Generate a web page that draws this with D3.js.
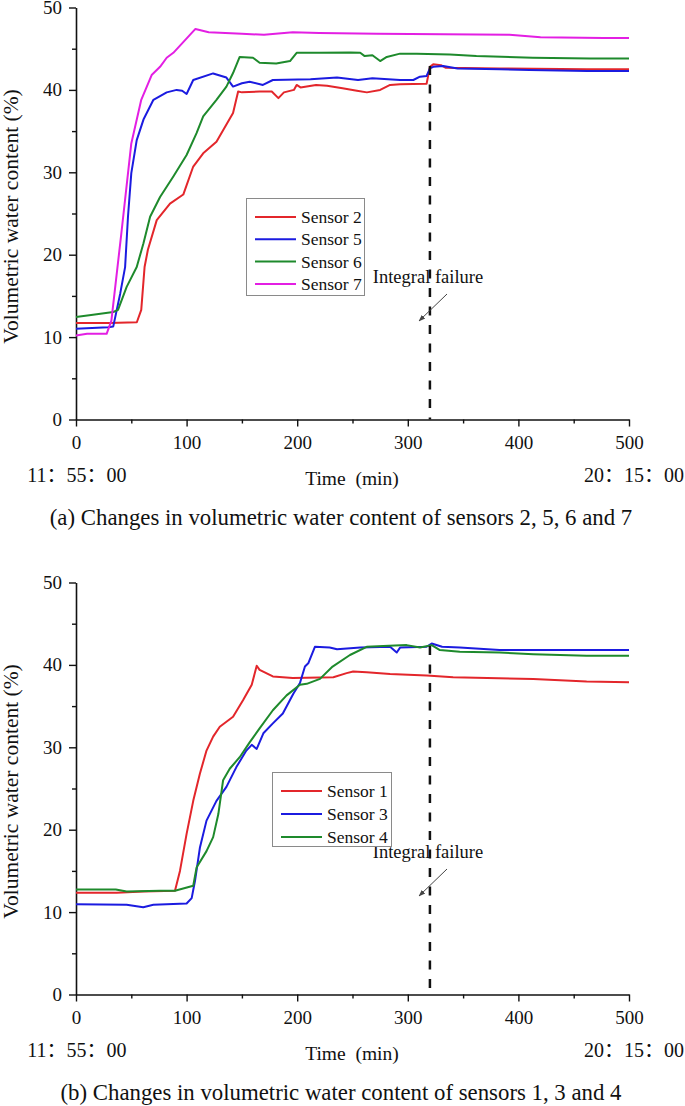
<!DOCTYPE html>
<html>
<head>
<meta charset="utf-8">
<script src="https://cdn.jsdelivr.net/npm/d3@7"></script>
<style>
  body { margin: 0; background: #fff; }
</style>
</head>
<body>
<div id="graph"></div>
<script>
// ---- data: [time (min), water content (%)] ----
const sensor2 = [[0,11.7],[30,11.7],[55,11.8],[59,13.3],[62,18.5],[65,20.6],[73,24.2],[85,26.2],[97,27.3],[106,30.7],[115,32.3],[127,33.7],[136,35.8],[142,37.2],[146.6,39.8],[150,39.7],[166,39.8],[177,39.8],[183,39.0],[188,39.7],[197,40.0],[199.5,40.6],[203,40.3],[217,40.6],[227,40.5],[241,40.2],[254,39.9],[263,39.7],[275,40.0],[284,40.6],[293,40.7],[317,40.75],[320,42.8],[323,43.1],[330,43.0],[334,42.7],[383,42.6],[462,42.5],[500,42.5]];
const sensor5 = [[0,11.0],[29,11.2],[33.7,11.3],[40,15.3],[44.4,18.5],[47,24.6],[50,29.9],[54.9,33.9],[61,36.4],[70,38.8],[82,39.7],[91,40.0],[96,39.9],[100,39.5],[106,41.2],[124,42.0],[136,41.5],[142,40.4],[150,40.8],[157,41.0],[169,40.6],[178,41.2],[212,41.3],[236,41.5],[255,41.2],[268,41.4],[293,41.2],[305,41.2],[311,41.6],[317,41.7],[320,42.6],[323,42.8],[332,42.9],[345,42.6],[383,42.5],[410,42.4],[462,42.3],[500,42.3]];
const sensor6 = [[0,12.45],[15.4,12.7],[33.7,13.05],[38,13.3],[45.8,16.1],[54.9,18.5],[61,21.4],[67,24.6],[76,27.0],[88,29.5],[100,32.1],[109,34.75],[115,36.8],[127,38.8],[136,40.4],[142,42.05],[148,44.0],[160,43.9],[166,43.3],[181,43.2],[193.5,43.5],[199.5,44.5],[220,44.5],[248,44.55],[257,44.5],[261,44.1],[268,44.2],[275,43.5],[281,44.0],[293,44.4],[308,44.4],[338,44.3],[362,44.1],[413,43.9],[465,43.8],[500,43.8]];
const sensor7 = [[0,10.2],[10,10.4],[27.7,10.4],[32,12.0],[41,22.6],[50,33.5],[59,38.8],[68.4,41.8],[76,42.8],[82,43.9],[88,44.5],[108,47.4],[120,47.0],[150,46.8],[170,46.7],[196,47.0],[220,46.9],[272,46.8],[392,46.7],[420,46.4],[477,46.3],[500,46.3]];

const sensor1 = [[0,12.35],[36.8,12.35],[61,12.5],[89.5,12.6],[94,15.0],[100,19.5],[106,23.5],[112,26.8],[118,29.6],[124,31.3],[130,32.5],[142,33.7],[151,35.7],[158.9,37.6],[163.4,39.9],[166,39.4],[178,38.6],[196,38.4],[232.7,38.5],[244.7,39.0],[250.6,39.2],[262.8,39.1],[284,38.9],[317,38.7],[341,38.5],[413.5,38.3],[461.7,38.0],[500,37.9]];
const sensor3 = [[0,10.95],[45.8,10.9],[60.8,10.6],[69.9,10.9],[100,11.05],[104.6,11.7],[107.6,13.8],[112,17.8],[118,21.1],[127,23.5],[136,25.2],[145,27.6],[154,29.6],[158.9,30.3],[163.4,29.8],[169.4,31.7],[178,32.9],[187,34.1],[196.5,36.5],[202.5,37.8],[207,39.8],[210,40.2],[216,42.2],[229.4,42.1],[236,41.9],[257,42.1],[284,42.2],[290,41.5],[293,42.1],[317,42.2],[321.6,42.6],[331,42.2],[347,42.1],[383,41.8],[500,41.8]];
const sensor4 = [[0,12.75],[36,12.75],[45.8,12.5],[76,12.6],[89.5,12.6],[106,13.2],[109,15.4],[118,17.4],[124,19.1],[128.7,21.9],[133,26.0],[139,27.4],[148,28.8],[157,30.6],[166,32.3],[178,34.5],[190.4,36.3],[202.5,37.6],[208.6,37.7],[220.6,38.3],[232,39.8],[247.7,41.2],[262.8,42.2],[277.9,42.3],[299,42.4],[311,42.1],[321.6,42.4],[329,41.8],[347,41.6],[383,41.5],[413.5,41.3],[461.7,41.1],[500,41.1]];

const xTicks = [0, 100, 200, 300, 400, 500];
const xMinor = [50, 150, 250, 350, 450];
const yTicks = [0, 10, 20, 30, 40, 50];
const yMinor = [5, 15, 25, 35, 45];
const failureTime = 320;
const startClock = "11：55：00";
const endClock = "20：15：00";

var palette = {
  red: "#e3262b",
  blue: "#1b1be0",
  green: "#1e8a2c",
  magenta: "#e31fe3"
};
const serif = "'Liberation Serif', 'Times New Roman', serif";
const serifCjk = "'Liberation Serif', 'Noto Sans CJK SC', serif";

const panels = [
  {
    top: 0,
    series: [
      { name: "Sensor 2", data: sensor2, color: palette.red },
      { name: "Sensor 5", data: sensor5, color: palette.blue },
      { name: "Sensor 6", data: sensor6, color: palette.green },
      { name: "Sensor 7", data: sensor7, color: palette.magenta }
    ],
    failTop: 42.9,
    legend: { x: 246, y: 198, w: 118, h: 97 },
    caption: "(a) Changes in volumetric water content of sensors 2, 5, 6 and 7"
  },
  {
    top: 575,
    series: [
      { name: "Sensor 1", data: sensor1, color: palette.red },
      { name: "Sensor 3", data: sensor3, color: palette.blue },
      { name: "Sensor 4", data: sensor4, color: palette.green }
    ],
    failTop: 42.3,
    legend: { x: 272, y: 772 - 575, w: 119, h: 74 },
    caption: "(b) Changes in volumetric water content of sensors 1, 3 and 4"
  }
];

const svg = d3.select("#graph").append("svg")
  .attr("width", 685).attr("height", 1106);

const defs = svg.append("defs");
defs.append("marker")
  .attr("id", "arrow")
  .attr("viewBox", "0 0 10 10")
  .attr("refX", 9).attr("refY", 5)
  .attr("markerWidth", 7).attr("markerHeight", 7)
  .attr("markerUnits", "userSpaceOnUse")
  .attr("orient", "auto")
  .append("path").attr("d", "M0,1.5L10,5L0,8.5Z").attr("fill", "#444");

const x = d3.scaleLinear().domain([0, 500]).range([76, 629]);

function label(g, px, py, size, str, font) {
  return g.append("text")
    .attr("x", px).attr("y", py)
    .attr("text-anchor", "middle")
    .attr("fill", "#111")
    .style("font-family", font || serif)
    .style("font-size", size + "px")
    .text(str);
}

panels.forEach(function(p) {
  const g = svg.append("g").attr("transform", "translate(0," + p.top + ")");
  const y = d3.scaleLinear().domain([0, 50]).range([419.5, 7.5]);

  // minor ticks
  g.append("g").attr("transform", "translate(0,419.5)")
    .call(d3.axisBottom(x).tickValues(xMinor).tickSize(4).tickFormat("").tickSizeOuter(0))
    .call(a => a.select(".domain").remove());
  g.append("g").attr("transform", "translate(76,0)")
    .call(d3.axisLeft(y).tickValues(yMinor).tickSize(4).tickFormat("").tickSizeOuter(0))
    .call(a => a.select(".domain").remove());

  const xa = g.append("g").attr("transform", "translate(0,419.5)")
    .call(d3.axisBottom(x).tickValues(xTicks).tickSize(7).tickPadding(9).tickSizeOuter(0));
  const ya = g.append("g").attr("transform", "translate(76,0)")
    .call(d3.axisLeft(y).tickValues(yTicks).tickSize(7).tickPadding(7).tickSizeOuter(0));

  [xa, ya].forEach(function(a) {
    a.selectAll("text").style("font-size", "19px").style("font-family", serif).attr("fill", "#111");
    a.select(".domain").attr("stroke", "#111").attr("stroke-width", 1.6);
  });
  g.selectAll(".tick line").attr("stroke", "#111").attr("stroke-width", 1.4);

  // sensor lines
  const line = d3.line().x(d => x(d[0])).y(d => y(d[1]));
  p.series.forEach(function(s) {
    g.append("path")
      .datum(s.data)
      .attr("d", line)
      .attr("fill", "none")
      .attr("stroke", s.color)
      .attr("stroke-width", 2)
      .attr("stroke-linejoin", "round");
  });

  // failure line + note
  g.append("line")
    .attr("x1", x(failureTime)).attr("x2", x(failureTime))
    .attr("y1", y(p.failTop)).attr("y2", y(0))
    .attr("stroke", "#111").attr("stroke-width", 2.5)
    .attr("stroke-dasharray", "9,9.5");

  label(g, 428, 283, 18.5, "Integral failure");
  g.append("line")
    .attr("x1", 447).attr("y1", 294)
    .attr("x2", 419).attr("y2", 321)
    .attr("stroke", "#444").attr("stroke-width", 1)
    .attr("marker-end", "url(#arrow)");

  // legend
  const L = p.legend;
  const lg = g.append("g");
  lg.append("rect")
    .attr("x", L.x + 0.5).attr("y", L.y + 0.5)
    .attr("width", L.w).attr("height", L.h)
    .attr("fill", "#fff").attr("stroke", "#8a8a8a").attr("stroke-width", 1);
  const step = p.series.length === 4 ? 22.3 : 23;
  p.series.forEach(function(s, i) {
    const cy = L.y + 19 + i * step;
    lg.append("line")
      .attr("x1", L.x + 9).attr("x2", L.x + 50)
      .attr("y1", cy).attr("y2", cy)
      .attr("stroke", s.color).attr("stroke-width", 2);
    label(lg, L.x + 55, cy + 6, 17.5, s.name).attr("text-anchor", "start");
  });

  // axis titles, clock times, caption
  label(g, 0, 0, 21.5, "Volumetric water content (%)")
    .attr("x", null).attr("y", null)
    .attr("transform", "translate(18," + ((7.5 + 419.5) / 2 + 3) + ") rotate(-90)");

  label(g, 77, 482, 20, startClock, serifCjk);
  label(g, 634, 482, 20, endClock, serifCjk);
  label(g, 352, 485, 19.5, "Time\u2002(min)");
  label(g, 341, 525, 22.8, p.caption);
});
</script>
</body>
</html>
